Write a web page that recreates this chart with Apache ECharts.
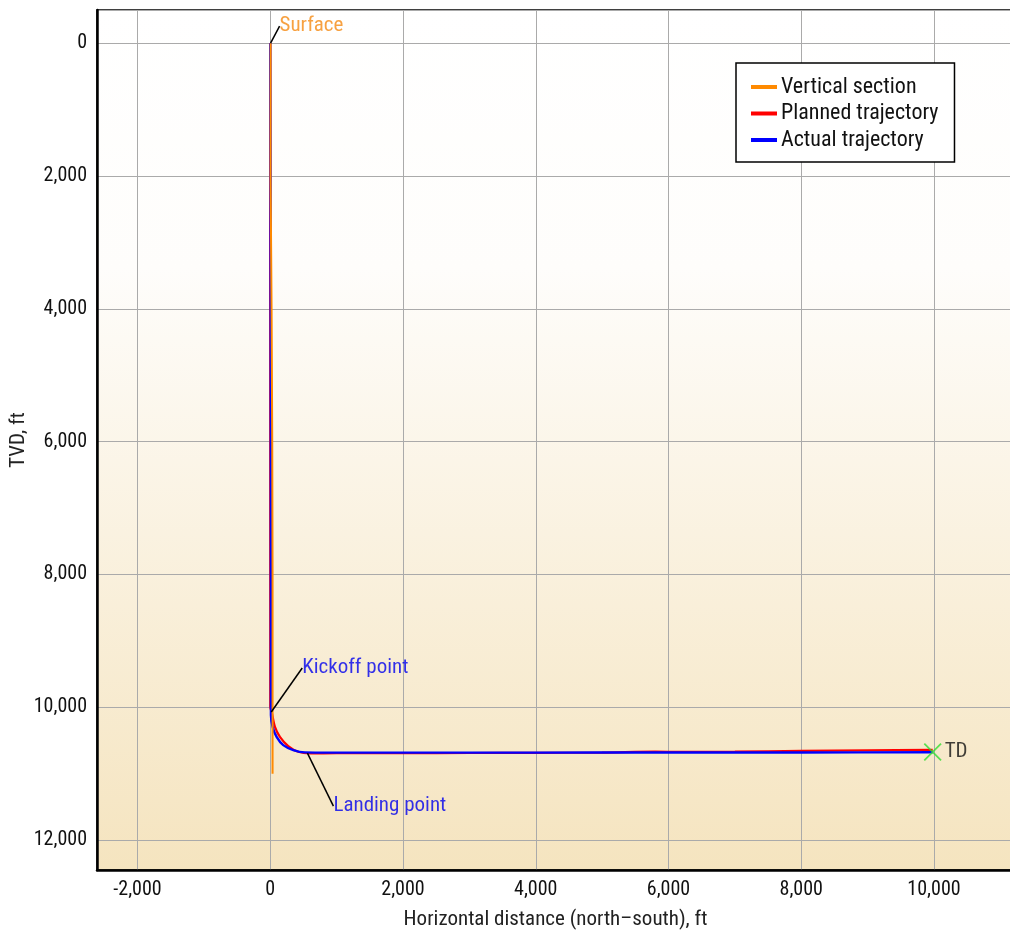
<!DOCTYPE html>
<html>
<head>
<meta charset="utf-8">
<script src="https://cdn.jsdelivr.net/npm/echarts@6/dist/echarts.min.js"></script>
<style>
html,body{margin:0;padding:0;background:#fff;}
#chart{width:1010px;height:934px;}
</style>
</head>
<body>
<div id="chart"></div>
<script>
// ---- data (ft) ----
const verticalSectionX   = [5, 5, 20, 30, 35, 35, 35];
const verticalSectionTVD = [0, 2000, 4000, 6000, 8000, 10000, 11000];

const plannedX   = [0, 0, 0, 21, 71, 146, 271, 422, 598, 1000, 2000, 3000, 4000, 5000, 5800, 6200, 7000, 8000, 9000, 9980];
const plannedTVD = [0, 5000, 10000, 10068, 10294, 10444, 10584, 10670, 10694, 10692, 10690, 10688, 10685, 10682, 10668, 10672, 10668, 10655, 10648, 10640];

const actualX   = [0, 5, 10, 10, 36, 96, 196, 347, 523, 1000, 2000, 4000, 6000, 8000, 9980];
const actualTVD = [0, 2000, 9800, 10117, 10294, 10444, 10569, 10644, 10679, 10682, 10683, 10682, 10680, 10680, 10678];

const annotationNames = ['Surface', 'Kickoff point', 'Landing point', 'TD'];
const annotationX     = [5, 15, 560, 9980];
const annotationTVD   = [0, 10070, 10690, 10672];

const seriesNames = ['Vertical section', 'Planned trajectory', 'Actual trajectory'];

const FONT = "'Liberation Sans Narrow', 'Roboto Condensed', 'DejaVu Sans Condensed', 'Roboto', sans-serif";

const zip = (xs, ys) => xs.map((x, i) => [x, ys[i]]);
const fmt = v => Number(v).toLocaleString('en-US');

const annStyles = [
  {color: '#f58a12', dx: 9, dy: -17, line: true},
  {color: '#0000ee', dx: 31, dy: -44, line: true},
  {color: '#0000ee', dx: 26, dy: 53, line: true},
  {color: '#111111', dx: 0, dy: 0, line: false}
];

const annData = annotationNames.map((n, i) => {
  const s = annStyles[i];
  const isTD = n === 'TD';
  return {
    name: n,
    value: [annotationX[i], annotationTVD[i]],
    symbol: isTD ? 'path://M0,1.4L1.4,0L10,8.6L18.6,0L20,1.4L11.4,10L20,18.6L18.6,20L10,11.4L1.4,20L0,18.6L8.6,10Z' : 'circle',
    symbolSize: isTD ? 18 : 0,
    itemStyle: {color: '#33dd33'},
    label: isTD ? {
      show: true, formatter: n, position: 'right', distance: 3,
      color: s.color, fontSize: 21, fontFamily: FONT
    } : {
      show: true, formatter: n, position: [0, 0], align: 'left', verticalAlign: 'middle',
      color: s.color, fontSize: 21, fontFamily: FONT, padding: 0
    },
    labelLine: {show: s.line, lineStyle: {color: '#000', width: 1.5}}
  };
});

const chart = echarts.init(document.getElementById('chart'), null, {renderer: 'canvas'});

chart.setOption({
  backgroundColor: '#ffffff',
  animation: false,
  textStyle: {fontFamily: FONT},
  grid: {
    left: 97, top: 10, right: -4, bottom: 64,
    outerBoundsMode: 'none',
    containLabel: false,
    show: true,
    borderColor: '#000', borderWidth: 1.5,
    backgroundColor: new echarts.graphic.LinearGradient(0, 0, 0, 1, [
      {offset: 0, color: '#ffffff'},
      {offset: 0.3, color: '#fefdfb'},
      {offset: 1, color: '#f5e4bf'}
    ])
  },
  legend: {
    data: seriesNames,
    orient: 'vertical',
    left: 736, top: 63,
    padding: [13, 16, 11, 15],
    itemWidth: 26, itemHeight: 4, itemGap: 4.5,
    icon: 'rect',
    backgroundColor: '#fff',
    borderColor: '#000', borderWidth: 1.5,
    textStyle: {fontSize: 22, color: '#111', fontFamily: FONT, padding: [0, 0, 0, -1]}
  },
  xAxis: {
    type: 'value',
    min: -2610, max: 11205,
    splitNumber: 7,
    name: 'Horizontal distance (north\u2013south), ft',
    nameLocation: 'middle', nameGap: 39,
    nameMoveOverlap: false,
    nameTextStyle: {fontSize: 21, color: '#222', fontFamily: FONT},
    axisLine: {show: true, onZero: false, lineStyle: {color: '#000', width: 2.5}},
    axisTick: {show: false},
    axisLabel: {fontSize: 20, color: '#111', margin: 10, fontFamily: FONT, showMinLabel: false, showMaxLabel: false, formatter: fmt},
    splitLine: {show: true, lineStyle: {color: '#aaaaaa', width: 1}}
  },
  yAxis: {
    type: 'value',
    inverse: true,
    min: -500, max: 12450,
    splitNumber: 6,
    name: 'TVD, ft',
    nameLocation: 'middle', nameGap: 68,
    nameMoveOverlap: false,
    nameTextStyle: {fontSize: 21, color: '#222', fontFamily: FONT},
    axisLine: {show: true, onZero: false, lineStyle: {color: '#000', width: 2.5}},
    axisTick: {show: false},
    axisLabel: {fontSize: 20, color: '#111', margin: 10, fontFamily: FONT, showMinLabel: false, showMaxLabel: false, formatter: fmt},
    splitLine: {show: true, lineStyle: {color: '#aaaaaa', width: 1}}
  },
  series: [
    {
      name: seriesNames[1], type: 'line', data: zip(plannedX, plannedTVD),
      showSymbol: false, smooth: 0.3, color: '#ff0000',
      lineStyle: {width: 2.2, color: '#ff0000'}, z: 2
    },
    {
      name: seriesNames[2], type: 'line', data: zip(actualX, actualTVD),
      showSymbol: false, smooth: 0.3, color: '#0000ff',
      lineStyle: {width: 2.4, color: '#0000ff'}, z: 3
    },
    {
      name: seriesNames[0], type: 'line', data: zip(verticalSectionX, verticalSectionTVD),
      showSymbol: false, color: '#ff8a00',
      lineStyle: {width: 2, color: '#ff8a00'}, z: 4
    },
    {
      name: 'annotations', type: 'scatter', data: annData, z: 6,
      silent: true,
      labelLayout: function (params) {
        const s = annStyles[params.dataIndex];
        return {dx: s.dx, dy: s.dy};
      }
    }
  ]
});
</script>
</body>
</html>
